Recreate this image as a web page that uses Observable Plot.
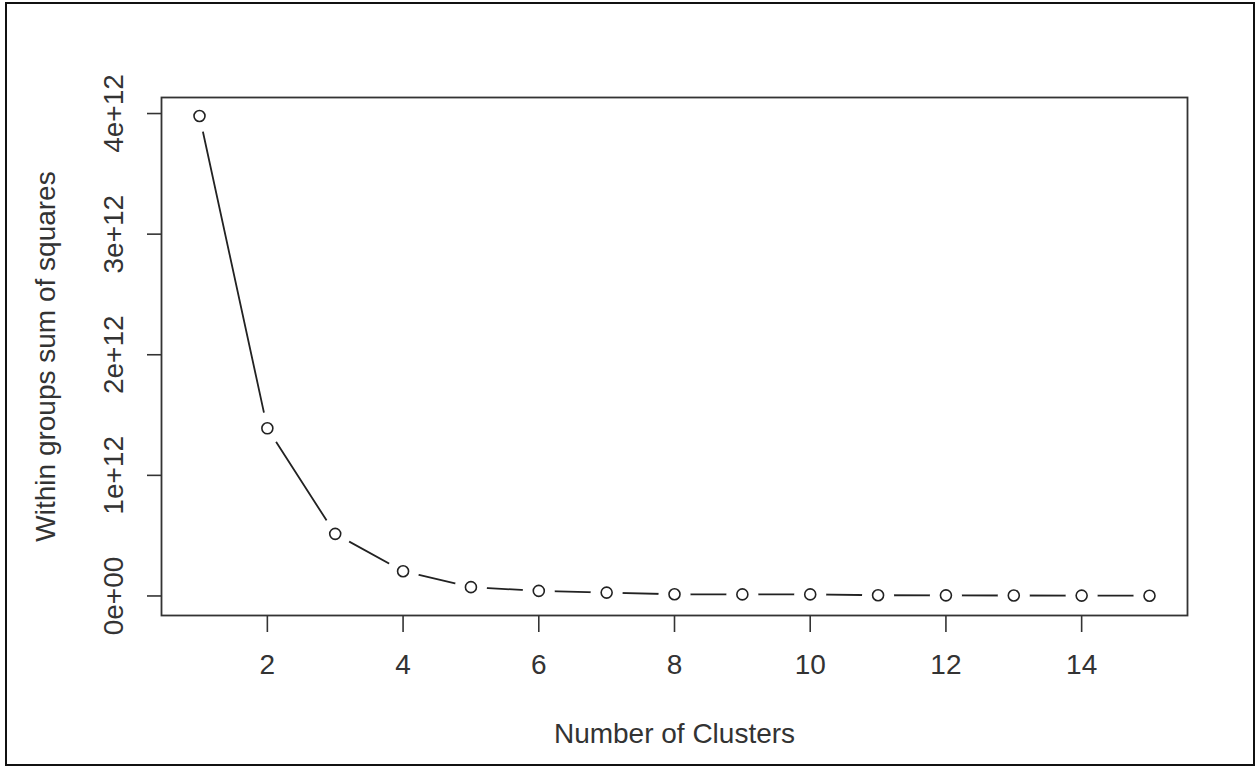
<!DOCTYPE html>
<html>
<head>
<meta charset="utf-8">
<script src="https://cdn.jsdelivr.net/npm/d3@7"></script>
<script src="https://cdn.jsdelivr.net/npm/@observablehq/plot@0.6"></script>
<style>
  html, body { margin: 0; padding: 0; background: #fff; }
  #wrap { position: relative; width: 1257px; height: 767px; overflow: hidden; }
  #border { position: absolute; left: 5px; top: 2px; width: 1246px; height: 760px; border: 2px solid #111; pointer-events: none; }
</style>
</head>
<body>
<div id="wrap"><div id="border"></div></div>
<script>
const clusters = [1, 2, 3, 4, 5, 6, 7, 8, 9, 10, 11, 12, 13, 14, 15];
const wss = [3.98e12, 1.39e12, 0.515e12, 0.205e12, 0.073e12, 0.042e12, 0.028e12, 0.014e12, 0.013e12, 0.013e12, 0.006e12, 0.005e12, 0.004e12, 0.003e12, 0.002e12];
const xTicks = [2, 4, 6, 8, 10, 12, 14];
const yTicks = [0, 1e12, 2e12, 3e12, 4e12];
const yTickLabels = ["0e+00", "1e+12", "2e+12", "3e+12", "4e+12"];
const xTitle = "Number of Clusters";
const yTitle = "Within groups sum of squares";

const data = clusters.map((k, i) => ({k, w: wss[i]}));
const ink = "#222";

const chart = Plot.plot({
  width: 1257,
  height: 767,
  marginLeft: 161,
  marginRight: 70,
  marginTop: 97,
  marginBottom: 152,
  style: {fontFamily: "'Liberation Sans', Arial, sans-serif", fontSize: "28px", color: "#333", background: "transparent"},
  x: {domain: [0.44, 15.56]},
  y: {domain: [-0.162e12, 4.133e12]},
  marks: [
    Plot.line(data, {x: "k", y: "w", stroke: ink, strokeWidth: 1.8}),
    Plot.dot(data, {x: "k", y: "w", r: 16, fill: "white", stroke: "none"}),
    Plot.dot(data, {x: "k", y: "w", r: 5.5, fill: "white", stroke: ink, strokeWidth: 1.6}),
    Plot.frame({stroke: "#333", strokeWidth: 1.8}),
    Plot.axisX({ticks: xTicks, tickFormat: d => String(d), tickSize: 17, tickPadding: 22, fontSize: 28, stroke: "#333", strokeWidth: 1.6, fill: "#333", label: null}),
    Plot.axisY({ticks: yTicks, tickFormat: d => yTickLabels[yTicks.indexOf(d)], tickRotate: -90, tickSize: 14, tickPadding: 25, fontSize: 28, stroke: "#333", strokeWidth: 1.6, fill: "#333", label: null}),
    Plot.text([xTitle], {frameAnchor: "bottom", dy: 108, lineAnchor: "top", textAnchor: "middle", fontSize: 28, fill: "#333", text: d => d}),
    Plot.text([yTitle], {frameAnchor: "left", dx: -126, rotate: -90, lineAnchor: "top", textAnchor: "middle", fontSize: 28, fill: "#333", text: d => d})
  ]
});
document.getElementById("wrap").prepend(chart);
</script>
</body>
</html>
